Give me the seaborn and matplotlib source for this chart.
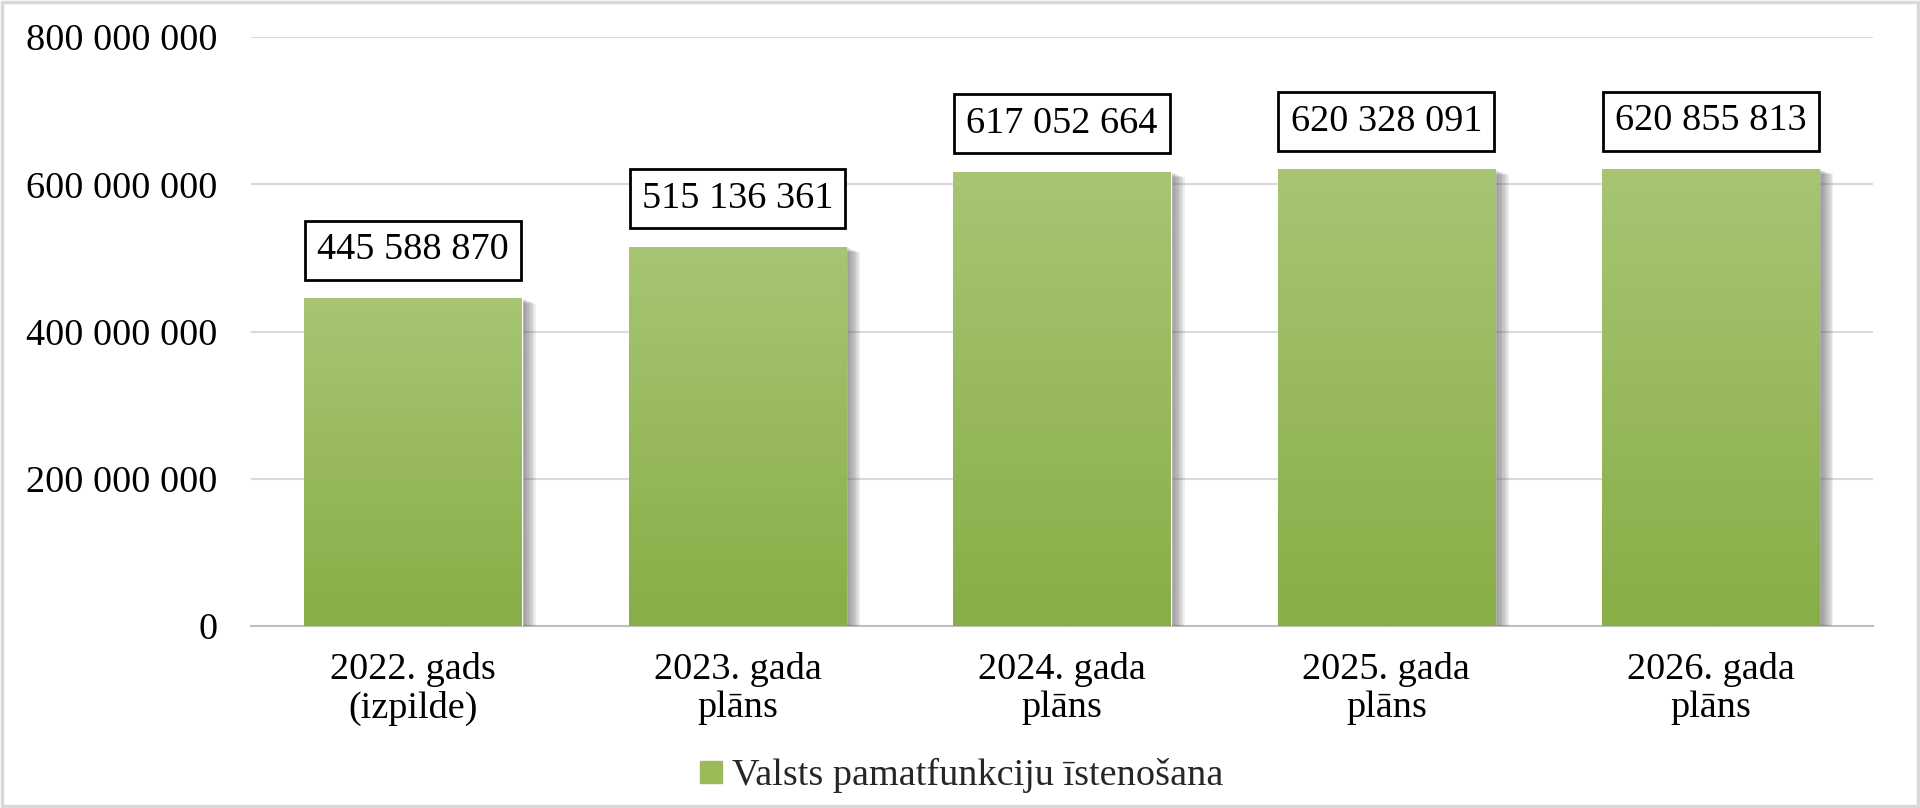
import matplotlib
matplotlib.use("Agg")
import matplotlib.pyplot as plt
import matplotlib.patheffects as pe
from matplotlib.lines import Line2D
from matplotlib.patches import Rectangle
from matplotlib.ticker import FuncFormatter
import numpy as np
import pandas as pd
import seaborn as sns

# data
categories = ["2022. gads\n(izpilde)", "2023. gada\nplāns", "2024. gada\nplāns",
              "2025. gada\nplāns", "2026. gada\nplāns"]
values = [445588870, 515136361, 617052664, 620328091, 620855813]
series_name = "Valsts pamatfunkciju īstenošana"

TOP_GREEN = "#A7C573"
BOTTOM_GREEN = "#88AE46"
FS = 27.5


def fmt_space(v, pos=None):
    return f"{int(v):,}".replace(",", " ")


sns.set_theme(style="white")
plt.rcParams["font.family"] = ["Liberation Serif", "DejaVu Serif"]

df = pd.DataFrame({"category": categories, "value": values})

fig = plt.figure(figsize=(19.2, 8.08), dpi=100)
ax = fig.add_axes([0.1307, 0.2252, 0.9755 - 0.1307, 0.9542 - 0.2252])

sns.barplot(data=df, x="category", y="value", color=BOTTOM_GREEN,
            width=0.67, saturation=1, ax=ax, zorder=3)

# vertical gradient + soft shadow on each bar
grad = np.linspace(0, 1, 256).reshape(-1, 1)
cmap = matplotlib.colors.LinearSegmentedColormap.from_list("g", [BOTTOM_GREEN, TOP_GREEN])
shadow = [pe.SimplePatchShadow(offset=(k, -k * 0.4), shadow_rgbFace="#707070", alpha=0.11)
          for k in range(10, 0, -1)]
for patch in ax.patches:
    patch.set_path_effects(shadow + [pe.Normal()])
    x0, y0 = patch.get_x(), patch.get_y()
    w, h = patch.get_width(), patch.get_height()
    im = ax.imshow(grad, extent=[x0, x0 + w, y0, y0 + h], origin="lower",
                   cmap=cmap, aspect="auto", zorder=4)
    im.set_clip_path(patch)

ax.set_xlim(-0.5, len(categories) - 0.5)
ax.set_ylim(0, 800000000)
ax.set_yticks(np.arange(0, 800000001, 200000000))
ax.yaxis.set_major_formatter(FuncFormatter(fmt_space))

ax.bar_label(ax.containers[0], labels=[fmt_space(v) for v in values], padding=22,
             fontsize=FS, color="black", zorder=6,
             bbox=dict(boxstyle="square,pad=0.32", fc="white", ec="black", lw=2))

ax.grid(axis="y", color="#D9D9D9", lw=1.5, zorder=0)
ax.set_axisbelow(True)
for side in ["top", "right", "left"]:
    ax.spines[side].set_visible(False)
ax.spines["bottom"].set_color("#BFBFBF")
ax.spines["bottom"].set_linewidth(1.5)
ax.tick_params(axis="both", length=0, labelsize=FS, colors="black")
ax.tick_params(axis="y", pad=24)
ax.tick_params(axis="x", pad=19)
for lbl in ax.get_xticklabels():
    lbl.set_linespacing(1.12)
ax.set_xlabel("")
ax.set_ylabel("")

handle = Line2D([], [], marker="s", linestyle="none", markersize=16,
                markerfacecolor="#9BBB59", markeredgecolor="#9BBB59")
fig.legend([handle], [series_name], loc="center", bbox_to_anchor=(0.5, 0.04),
           frameon=False, fontsize=FS, handletextpad=0.15, handlelength=0.8)

# thin grey frame around the whole chart
fig.add_artist(Rectangle((0.001, 0.002), 0.998, 0.996, transform=fig.transFigure,
                         fill=False, ec="#D9D9D9", lw=2.5))

fig.savefig("out.png", dpi=100)
